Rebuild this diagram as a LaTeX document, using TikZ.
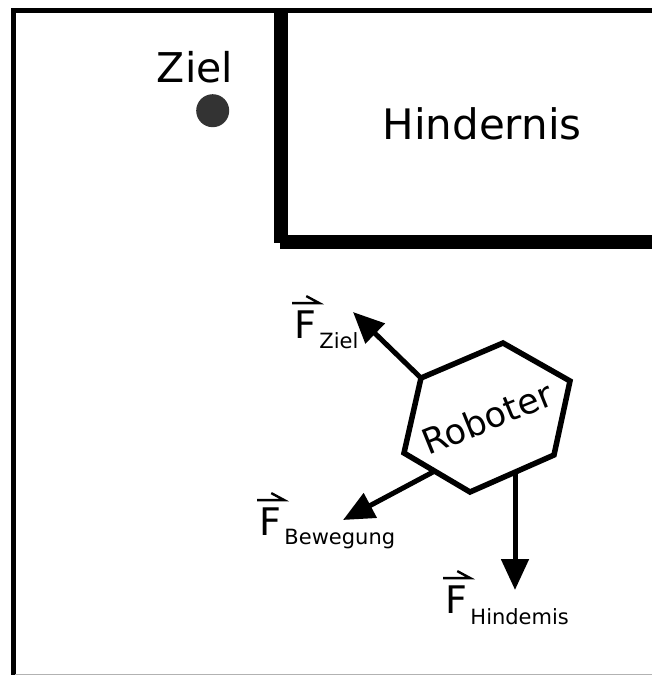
\documentclass[tikz,border=0pt]{standalone}
\usepackage{fontspec}
\setmainfont{DejaVu Sans}
\usetikzlibrary{arrows.meta}
\tikzset{
  wall/.style={fill=black, draw=none},
  frameline/.style={line width=4.5pt, draw=black},
  force/.style={line width=5pt, -{Triangle[length=31pt,width=27pt]}},
  hexa/.style={line width=5.5pt, line join=miter},
  bigF/.style={inner sep=0pt, anchor=base west, font=\fontsize{38}{40}\selectfont},
  subtext/.style={inner sep=0pt, anchor=base west, font=\fontsize{21}{24}\selectfont},
  vecmark/.style={line width=2.4pt},
  bigtext/.style={inner sep=0pt, anchor=base, font=\fontsize{42}{48}\selectfont},
}
\begin{document}
\begin{tikzpicture}[x=1pt,y=-1pt]
\useasboundingbox (0,0) rectangle (652,675);
% frame
\draw[frameline] (13.5,8) -- (13.5,675);
\draw[frameline] (11.5,10.5) -- (652,10.5);
\draw[gray!60, line width=1pt] (15,674) -- (652,674);
% obstacle walls
\fill[wall] (274,10) rectangle (288,243);
\fill[wall] (280,235) rectangle (652,249);
\node[bigtext] (hind) at (482,139) {Hindernis};
% goal
\node[bigtext, font=\fontsize{41}{46}\selectfont] (ziel) at (195,82) {Ziel};
\fill[black!80] (212.7,110.7) circle[radius=16.5] coordinate (dot);
% robot hexagon
\coordinate (h1) at (503,343);
\coordinate (h2) at (570,381);
\coordinate (h3) at (554,455);
\coordinate (h4) at (470,492);
\coordinate (h5) at (404,453);
\coordinate (h6) at (421,378);
\draw[hexa] (h1) -- (h2) -- (h3) -- (h4) -- (h5) -- (h6) -- cycle;
\node[rotate=22, inner sep=0pt, font=\fontsize{35}{40}\selectfont] (rob) at (487,418) {Roboter};
% force start and end points
\coordinate (sB) at (433,472);
\coordinate (sH) at (515,472);
\coordinate (tZ) at (353,312);
\coordinate (tB) at (343,520);
\coordinate (tH) at (515,590);
\draw[force] (h6) -- (tZ);
\draw[force] (sB) -- (tB);
\draw[force] (sH) -- (tH);
% labels
\node[bigF] (FZ) at (294,338) {F};
\node[subtext] (sZ) at ([xshift=3pt,yshift=-10pt]FZ.base east) {Ziel};
\node[bigF] (FB) at (259,535) {F};
\node[subtext] (sBw) at ([xshift=3pt,yshift=-9pt]FB.base east) {Bewegung};
\node[bigF] (FH) at (445,613) {F};
\node[subtext] (sHd) at ([xshift=3pt,yshift=-11pt]FH.base east) {Hindemis};
\foreach \f in {FZ,FB,FH}{
  \draw[vecmark] ([xshift=-2pt,yshift=7pt]\f.north west) -- ([xshift=3pt,yshift=7pt]\f.north east) -- ++(-13pt,7pt);
}
\end{tikzpicture}
\end{document}
